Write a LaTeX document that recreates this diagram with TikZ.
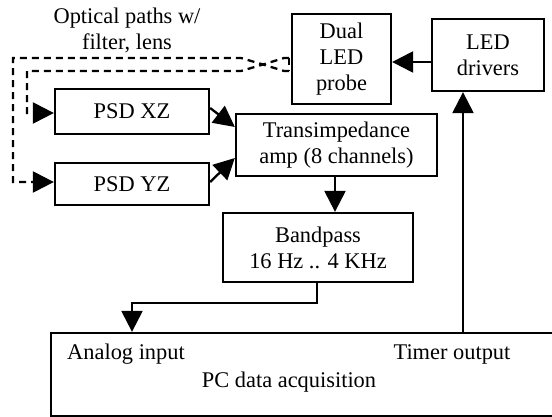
\documentclass[tikz,border=0pt]{standalone}
\usepackage{fontspec}
\setmainfont{Liberation Serif}
\usetikzlibrary{arrows.meta,calc}
\begin{document}
\begin{tikzpicture}[x=1pt,y=-1pt,
  every node/.style={font=\fontsize{22.4}{26}\selectfont},
  blk/.style={draw,line width=2.3pt,align=center,inner sep=0pt},
  tip/.style={-{Triangle[length=21pt,width=21pt]}},
  conn/.style={line width=2.3pt,tip},
  opt/.style={line width=2.3pt,dash pattern=on 7pt off 5pt}]
\useasboundingbox (0,0) rectangle (552,417);
\node[blk,minimum width=99pt,minimum height=90pt] (probe) at (341.5,59) {Dual\\LED\\probe};
\node[blk,minimum width=112pt,minimum height=72pt] (drv) at (488,55) {LED\\drivers};
\node[blk,minimum width=201pt,minimum height=62pt] (trans) at (336.5,145) {Transimpedance\\amp (8 channels)};
\node[blk,minimum width=154pt,minimum height=45pt] (xz) at (132,111.5) {PSD XZ};
\node[blk,minimum width=154pt,minimum height=42pt] (yz) at (132,184) {PSD YZ};
\node[blk,minimum width=190pt,minimum height=69pt] (bp) at (318,247.5) {Bandpass\\16 Hz .. 4 KHz};
\node[blk,minimum width=505pt,minimum height=83pt] (pc) at (303.5,374.5) {};
\node (ain) at (126,354) {Analog input};
\node (tout) at (452,354) {Timer output};
\node (pcl) at (289,382) {PC data acquisition};
\node[align=center] (optl) at (127,30) {Optical paths w/\\filter, lens};
% optical dashed paths
\coordinate (b1) at (289,58);
\coordinate (b2) at (289,71);
\coordinate (m) at (263,64.5);
\draw[opt] (b1) -- (b2);
\draw[opt,tip] (b1) -- (284,58) -- (m) -- (241,58) -- (13,58) -- (13,182) -- (yz.west |- 0,182);
\draw[opt,tip] (b2) -- (284,71) -- (m) -- (241,71) -- (27,71) -- (27,113) -- (xz.west |- 0,113);
% signal connectors
\draw[conn] ($(xz.east)+(0,-3.5)$) -- ($(trans.west)+(0,-18)$);
\draw[conn] ($(yz.east)+(0,-2)$) -- ($(trans.west)+(0,13)$);
\draw[conn] (drv.west |- 0,62) -- (probe.east |- 0,62);
\draw[conn] (trans.south -| 335,0) -- (bp.north -| 335,0);
\draw[conn] (bp.south -| 317,0) -- (317,303) -- (132,303) -- (pc.north -| 132,0);
\draw[conn] (pc.north -| 463,0) -- (drv.south -| 463,0);
\end{tikzpicture}
\end{document}
